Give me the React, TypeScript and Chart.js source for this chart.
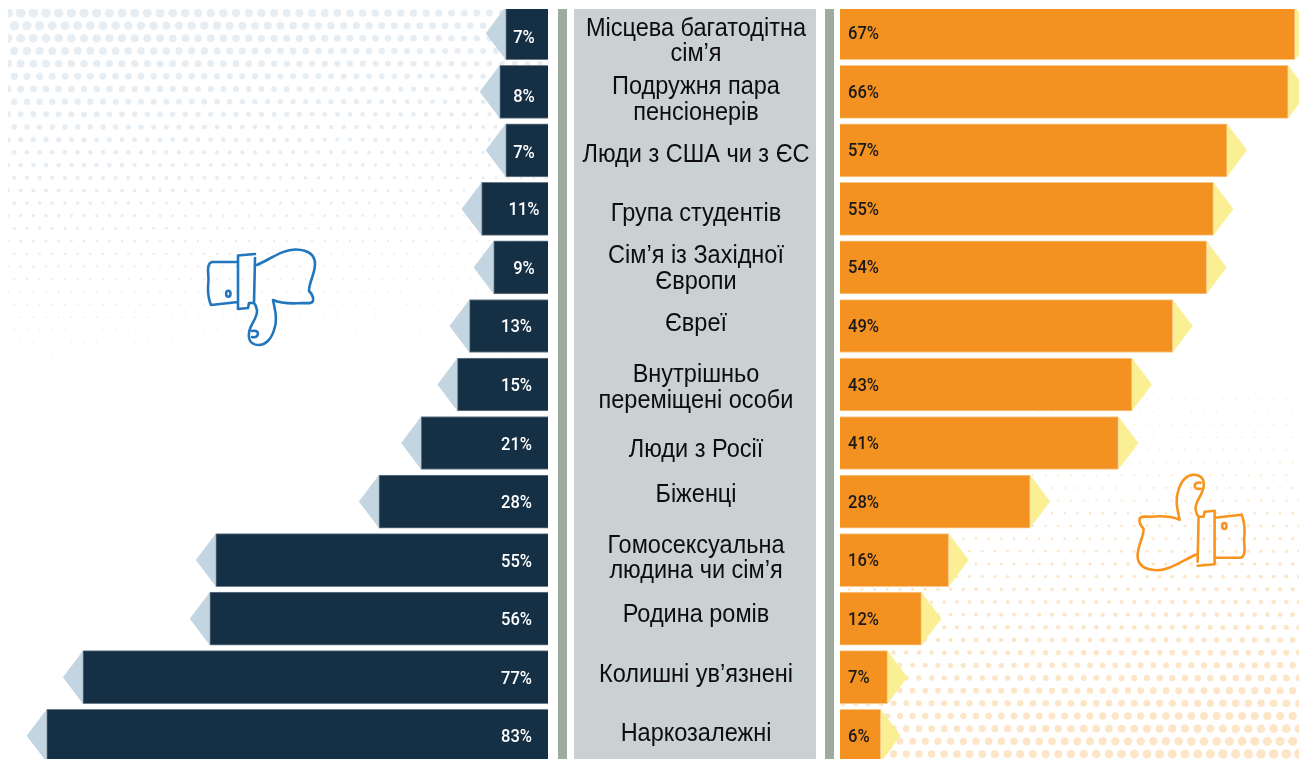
import React, { useEffect, useRef } from "react";
import { Chart, registerables } from "chart.js";

Chart.register(...registerables);

const categories: string[][] = [
  ["Місцева багатодітна", "сім’я"],
  ["Подружня пара", "пенсіонерів"],
  ["Люди з США чи з ЄС"],
  ["Група студентів"],
  ["Сім’я із Західної", "Європи"],
  ["Євреї"],
  ["Внутрішньо", "переміщені особи"],
  ["Люди з Росії"],
  ["Біженці"],
  ["Гомосексуальна", "людина чи сім’я"],
  ["Родина ромів"],
  ["Колишні ув’язнені"],
  ["Наркозалежні"],
];
const rejectValues = [7, 8, 7, 11, 9, 13, 15, 21, 28, 55, 56, 77, 83];
const acceptValues = [67, 66, 57, 55, 54, 49, 43, 41, 28, 16, 12, 7, 6];

const categoryNudge = [8.5, 8.5, 4.5, 5, 1.5, -1.5, 3.5, 7.5, -6.5, -1.5, -3.5, -2.5, -1.5];
const rejectNudge = [3, 4, 1, 0, 0, 0, 0, 0, 0, 0, 0, 0, 0];

const W = 1299;
const H = 769;
const LEFT_ZERO = 548;
const LEFT_PPU = 6.04;
const RIGHT_ZERO = 840;
const RIGHT_PPU = 6.79;
const BAR_H = 53;
const TIP = 20;
const LABEL_FONT = '25px "Liberation Sans", sans-serif';
const VALUE_FONT = '500 18px Roboto, "Liberation Sans", sans-serif';

function handPath(): Path2D {
  const p = new Path2D();
  // sleeve
  p.moveTo(238, 262);
  p.lineTo(212, 262);
  p.quadraticCurveTo(208, 263, 208, 270);
  p.quadraticCurveTo(209, 280, 208, 288);
  p.quadraticCurveTo(208, 298, 211, 305);
  p.lineTo(238, 302);
  // cuff
  p.moveTo(255, 254);
  p.lineTo(238, 255.5);
  p.lineTo(238, 309);
  p.lineTo(248, 308);
  p.lineTo(249, 303);
  p.lineTo(254, 303);
  p.moveTo(255, 258);
  p.lineTo(254, 303);
  // hand
  p.moveTo(257, 265);
  p.bezierCurveTo(272, 258, 284, 249, 296, 249.5);
  p.bezierCurveTo(308, 250, 315, 255, 315, 264);
  p.bezierCurveTo(315, 274, 309, 282, 309, 291);
  p.bezierCurveTo(311, 293, 314, 296, 313, 301);
  p.bezierCurveTo(312, 304, 308, 303, 302, 303);
  p.bezierCurveTo(290, 304, 280, 303, 273, 300);
  // thumb
  p.bezierCurveTo(275, 310, 278, 320, 274, 330);
  p.bezierCurveTo(271, 340, 265, 345, 259, 345);
  p.bezierCurveTo(252, 345, 248, 341, 249, 333);
  p.bezierCurveTo(250, 324, 258, 318, 257, 310);
  p.quadraticCurveTo(256, 305, 254, 303);
  // nail
  p.moveTo(252, 331);
  p.quadraticCurveTo(258, 330, 258, 334);
  p.quadraticCurveTo(257, 338, 252, 337);
  // button
  p.moveTo(230.5, 293.7);
  p.ellipse(228.3, 293.7, 2.2, 3, 0, 0, Math.PI * 2);
  return p;
}

function drawDots(ctx: CanvasRenderingContext2D, flip: boolean) {
  ctx.save();
  ctx.beginPath();
  if (flip) {
    ctx.rect(RIGHT_ZERO, 395, W - RIGHT_ZERO, 364);
  } else {
    ctx.rect(8, 9, 540, 440);
  }
  ctx.clip();
  ctx.fillStyle = flip ? "#fde6c8" : "#e6edf3";
  const pitch = 12.67;
  for (let row = 0; row < 34; row++) {
    const y0 = 13 + row * pitch;
    const x0 = row % 2 === 0 ? 8 : 14.3;
    for (let col = 0; col < 43; col++) {
      const x1 = x0 + col * pitch;
      const fall = Math.max(0, 1 - y0 / 430);
      const r = (0.6 + 4.6 * fall * fall) * (1 - (x1 / 490) * 0.3);
      const x = flip ? 1307 - x1 : x1;
      const y = flip ? 767 - y0 : y0;
      ctx.beginPath();
      ctx.arc(x, y, r, 0, Math.PI * 2);
      ctx.fill();
    }
  }
  ctx.restore();
}

function squeezed(ctx: CanvasRenderingContext2D, text: string, x: number, y: number, sx: number) {
  ctx.save();
  ctx.translate(x, y);
  ctx.scale(sx, 1);
  ctx.fillText(text, 0, 0);
  ctx.restore();
}

const decor = {
  id: "decor",
  beforeDatasetsDraw(chart: any) {
    const ctx: CanvasRenderingContext2D = chart.ctx;
    ctx.fillStyle = "#ffffff";
    ctx.fillRect(0, 0, W, H);
    drawDots(ctx, false);
    drawDots(ctx, true);

    ctx.fillStyle = "#9daa9e";
    ctx.fillRect(558, 0, 9, H);
    ctx.fillRect(825, 0, 9, H);
    ctx.fillStyle = "#cad1d2";
    ctx.fillRect(574, 0, 242, H);

    const y = chart.scales.y;
    const xL = chart.scales.xL;
    const xR = chart.scales.xR;
    rejectValues.forEach((v, i) => {
      const c = y.getPixelForValue(i);
      const e = xL.getPixelForValue(v);
      ctx.fillStyle = "#c2d5e1";
      ctx.beginPath();
      ctx.moveTo(e, c - BAR_H / 2);
      ctx.lineTo(e - TIP, c);
      ctx.lineTo(e, c + BAR_H / 2);
      ctx.closePath();
      ctx.fill();
    });
    acceptValues.forEach((v, i) => {
      const c = y.getPixelForValue(i);
      const e = xR.getPixelForValue(v);
      ctx.fillStyle = "#faf093";
      ctx.beginPath();
      ctx.moveTo(e, c - BAR_H / 2);
      ctx.lineTo(e + TIP, c);
      ctx.lineTo(e, c + BAR_H / 2);
      ctx.closePath();
      ctx.fill();
    });
  },
  afterDatasetsDraw(chart: any) {
    const ctx: CanvasRenderingContext2D = chart.ctx;
    const y = chart.scales.y;
    ctx.save();
    ctx.textBaseline = "middle";

    ctx.textAlign = "center";
    ctx.fillStyle = "#0d0d0d";
    ctx.font = LABEL_FONT;
    categories.forEach((lines, i) => {
      const c = y.getPixelForValue(i) + categoryNudge[i];
      lines.forEach((t, k) => {
        squeezed(ctx, t, 696, c + (k - (lines.length - 1) / 2) * 25.5, 0.94);
      });
    });

    ctx.font = VALUE_FONT;
    ctx.fillStyle = "#ffffff";
    rejectValues.forEach((v, i) => {
      const c = y.getPixelForValue(i) + rejectNudge[i];
      squeezed(ctx, `${v}%`, i < 5 ? 524 : 516.5, c + 2, 0.92);
    });
    ctx.textAlign = "left";
    ctx.fillStyle = "#1a1a1a";
    acceptValues.forEach((v, i) => {
      squeezed(ctx, `${v}%`, 848, y.getPixelForValue(i) + 1.5, 0.92);
    });

    const hand = handPath();
    ctx.lineWidth = 2.6;
    ctx.lineJoin = "round";
    ctx.lineCap = "round";
    ctx.strokeStyle = "#2176bd";
    ctx.stroke(hand);
    ctx.translate(1452.6, 819.7);
    ctx.rotate(Math.PI);
    ctx.strokeStyle = "#f7941e";
    ctx.stroke(hand);
    ctx.restore();
  },
};

export default function App() {
  const ref = useRef<HTMLCanvasElement>(null);
  useEffect(() => {
    const chart = new Chart(ref.current!, {
      type: "bar",
      data: {
        labels: categories.map((l) => l.join(" ")),
        datasets: [
          {
            label: "Негативне ставлення",
            data: rejectValues,
            xAxisID: "xL",
            yAxisID: "y",
            backgroundColor: "#152f45",
            borderColor: "#6d7f8d",
            borderWidth: 1,
            barThickness: BAR_H,
            grouped: false,
          },
          {
            label: "Позитивне ставлення",
            data: acceptValues,
            xAxisID: "xR",
            yAxisID: "y",
            backgroundColor: "#f39220",
            borderColor: "#f8c98a",
            borderWidth: 1,
            barThickness: BAR_H,
            grouped: false,
          },
        ] as any,
      },
      options: {
        indexAxis: "y",
        animation: false,
        responsive: false,
        devicePixelRatio: 1,
        layout: { padding: { top: 4, bottom: 4, left: 0, right: 0 } },
        plugins: { legend: { display: false }, tooltip: { enabled: false } },
        scales: {
          y: { type: "category", display: false },
          xL: {
            type: "linear",
            display: false,
            reverse: true,
            min: (LEFT_ZERO - W) / LEFT_PPU,
            max: LEFT_ZERO / LEFT_PPU,
          },
          xR: {
            type: "linear",
            display: false,
            min: -RIGHT_ZERO / RIGHT_PPU,
            max: (W - RIGHT_ZERO) / RIGHT_PPU,
          },
        },
      } as any,
      plugins: [decor],
    });
    return () => chart.destroy();
  }, []);
  return (
    <div style={{ position: "absolute", left: 0, top: 0, width: W, height: 759, overflow: "hidden", background: "#fff" }}>
      <canvas
        ref={ref}
        width={W}
        height={H}
        style={{ display: "block", clipPath: "inset(9px 0 0 0)" }}
      />
    </div>
  );
}
